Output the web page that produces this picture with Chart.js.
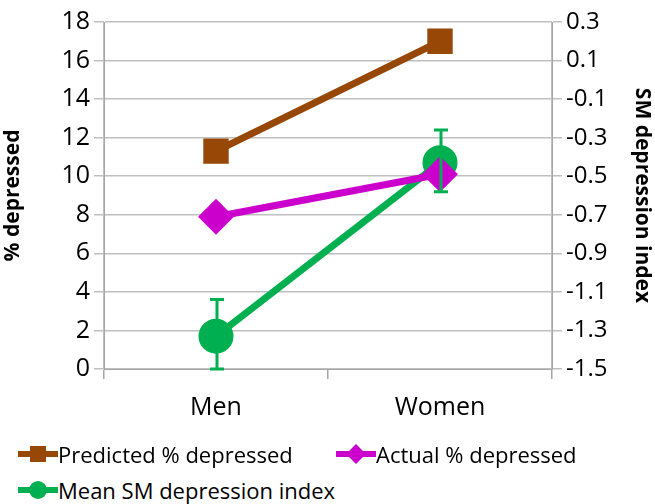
<!DOCTYPE html>
<html><head><meta charset="utf-8">
<script src="https://cdn.jsdelivr.net/npm/chart.js@4"></script>
<style>
body{margin:0;background:#fff;font-family:"Open Sans",sans-serif;}
#wrap{position:relative;width:655px;height:504px;}
#c{position:absolute;left:0;top:0;}
.leg{position:absolute;font-size:22px;color:#000;display:flex;align-items:center;white-space:nowrap;}
.sym{position:relative;width:40px;height:20px;margin-right:0px;}
.sym .ln{position:absolute;left:0;right:0;top:7px;height:6px;}
.sym .mk{position:absolute;left:11px;top:1px;width:18px;height:18px;}
</style></head>
<body><div id="wrap"><canvas id="c" width="655" height="440"></canvas>
<div class="leg" style="left:18px;top:439px"><div class="sym"><div class="ln" style="background:#974706"></div><div class="mk" style="background:#974706;left:12px;top:2px;width:16px;height:16px"></div></div>Predicted % depressed</div>
<div class="leg" style="left:336px;top:439px"><div class="sym"><div class="ln" style="background:#cc00cc"></div><div class="mk" style="background:#cc00cc;transform:rotate(45deg);left:13px;top:3px;width:14px;height:14px"></div></div>Actual % depressed</div>
<div class="leg" style="left:18px;top:475px"><div class="sym"><div class="ln" style="background:#00b050"></div><div class="mk" style="background:#00b050;border-radius:50%"></div></div>Mean SM depression index</div>
</div>
<script>
const categories=["Men","Women"];
const predicted=[11.3,17.0];
const actual=[7.9,10.1];
const meanSM=[-1.33,-0.43];
const smLow=[-1.5,-0.58];
const smHigh=[-1.14,-0.26];
const errPlugin={id:'err',afterDatasetsDraw(chart){
  const ctx=chart.ctx,x=chart.scales.x,y=chart.scales.y1;
  ctx.save();ctx.strokeStyle='#00b050';ctx.lineWidth=3;
  meanSM.forEach((v,i)=>{const px=x.getPixelForValue(i)+1;const a=y.getPixelForValue(smLow[i]),b=y.getPixelForValue(smHigh[i]);
    ctx.beginPath();ctx.moveTo(px,a);ctx.lineTo(px,b);ctx.moveTo(px-7,a);ctx.lineTo(px+7,a);ctx.moveTo(px-7,b);ctx.lineTo(px+7,b);ctx.stroke();});
  ctx.restore();}};
new Chart(document.getElementById('c'),{type:'line',
data:{labels:categories,datasets:[
{label:'Predicted % depressed',data:predicted,borderColor:'#974706',backgroundColor:'#974706',borderWidth:7,pointStyle:'rect',pointRadius:13,pointHoverRadius:13,yAxisID:'y'},
{label:'Actual % depressed',data:actual,borderColor:'#cc00cc',backgroundColor:'#cc00cc',borderWidth:7,pointStyle:'rectRot',pointRadius:13,pointHoverRadius:13,yAxisID:'y'},
{label:'Mean SM depression index',data:meanSM,borderColor:'#00b050',backgroundColor:'#00b050',borderWidth:7,pointStyle:'circle',pointRadius:14,pointHoverRadius:14,yAxisID:'y1'}
]},
options:{responsive:false,animation:false,layout:{padding:{top:22,left:0,right:0,bottom:0}},
plugins:{legend:{display:false},tooltip:{enabled:false}},
scales:{
x:{offset:true,grid:{offset:true,color:c=>c.index===1?'rgba(0,0,0,0)':'#bfbfbf',tickColor:'#a6a6a6',tickLength:10,lineWidth:1.5},border:{color:'#a6a6a6'},
 ticks:{font:{family:'Open Sans',size:25},color:'#000',padding:14},afterFit:s=>{s.height=71;}},
y:{position:'left',min:0,max:18,ticks:{stepSize:2,font:{family:'Open Sans',size:25},color:'#000',padding:4},grid:{color:'#bfbfbf',lineWidth:1.5,tickLength:10},border:{color:'#a6a6a6'},
 title:{display:true,text:'% depressed',font:{family:'Open Sans',size:21,weight:'bold'},color:'#000',padding:0},afterFit:s=>{s.width=104;}},
y1:{position:'right',min:-1.5,max:0.3,ticks:{stepSize:0.2,callback:v=>(+v).toFixed(1),font:{family:'Open Sans',size:24},color:'#000',padding:4},grid:{drawOnChartArea:false,color:'#bfbfbf',tickLength:10,lineWidth:1.5},border:{color:'#a6a6a6'},
 title:{display:true,text:'SM depression index',font:{family:'Open Sans',size:21,weight:'bold'},color:'#000',padding:0},afterFit:s=>{s.width=103;}}
}},plugins:[errPlugin]});
</script></body></html>
